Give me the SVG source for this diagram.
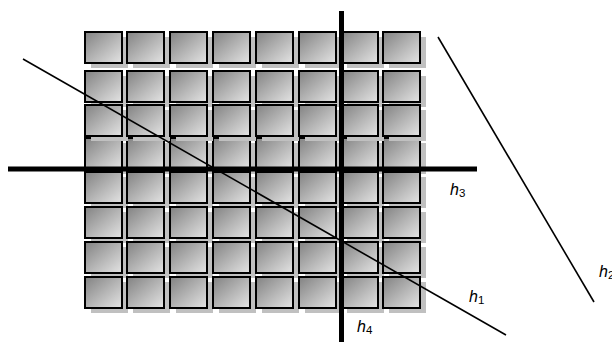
<svg xmlns="http://www.w3.org/2000/svg" xmlns:xlink="http://www.w3.org/1999/xlink" width="612" height="342" viewBox="0 0 612 342">
<style>
.lbl{font-family:"Liberation Sans",Arial,sans-serif;font-size:16px;fill:#000}
.sub{font-size:11.5px;font-style:normal}
.thick{stroke:#000;stroke-width:5;fill:none}
.thin{stroke:#000;stroke-width:1.6;fill:none}
</style>
<defs>
<linearGradient id="grad" x1="0" y1="0" x2="1" y2="1">
<stop offset="0" stop-color="#828282"/>
<stop offset="1" stop-color="#e4e4e4"/>
</linearGradient>
<g id="cell">
<rect x="6" y="5" width="37" height="31" fill="#c0c0c0"/>
<rect x="0" y="0" width="37" height="31" fill="url(#grad)" stroke="#000" stroke-width="2"/>
</g>
</defs>
<rect width="612" height="342" fill="#fff"/>
<g id="grid">
<g id="row1">
<use xlink:href="#cell" x="85" y="32"/><use xlink:href="#cell" x="127" y="32"/><use xlink:href="#cell" x="170" y="32"/><use xlink:href="#cell" x="213" y="32"/><use xlink:href="#cell" x="256" y="32"/><use xlink:href="#cell" x="299" y="32"/><use xlink:href="#cell" x="341" y="32"/><use xlink:href="#cell" x="383" y="32"/>
</g>
<g id="row2">
<use xlink:href="#cell" x="85" y="71"/><use xlink:href="#cell" x="127" y="71"/><use xlink:href="#cell" x="170" y="71"/><use xlink:href="#cell" x="213" y="71"/><use xlink:href="#cell" x="256" y="71"/><use xlink:href="#cell" x="299" y="71"/><use xlink:href="#cell" x="341" y="71"/><use xlink:href="#cell" x="383" y="71"/>
</g>
<g id="row4">
<use xlink:href="#cell" x="85" y="138"/><use xlink:href="#cell" x="127" y="138"/><use xlink:href="#cell" x="170" y="138"/><use xlink:href="#cell" x="213" y="138"/><use xlink:href="#cell" x="256" y="138"/><use xlink:href="#cell" x="299" y="138"/><use xlink:href="#cell" x="341" y="138"/><use xlink:href="#cell" x="383" y="138"/>
</g>
<g id="row3">
<use xlink:href="#cell" x="85" y="105"/><use xlink:href="#cell" x="127" y="105"/><use xlink:href="#cell" x="170" y="105"/><use xlink:href="#cell" x="213" y="105"/><use xlink:href="#cell" x="256" y="105"/><use xlink:href="#cell" x="299" y="105"/><use xlink:href="#cell" x="341" y="105"/><use xlink:href="#cell" x="383" y="105"/>
</g>
<g id="row5">
<use xlink:href="#cell" x="85" y="172"/><use xlink:href="#cell" x="127" y="172"/><use xlink:href="#cell" x="170" y="172"/><use xlink:href="#cell" x="213" y="172"/><use xlink:href="#cell" x="256" y="172"/><use xlink:href="#cell" x="299" y="172"/><use xlink:href="#cell" x="341" y="172"/><use xlink:href="#cell" x="383" y="172"/>
</g>
<g id="row6">
<use xlink:href="#cell" x="85" y="207"/><use xlink:href="#cell" x="127" y="207"/><use xlink:href="#cell" x="170" y="207"/><use xlink:href="#cell" x="213" y="207"/><use xlink:href="#cell" x="256" y="207"/><use xlink:href="#cell" x="299" y="207"/><use xlink:href="#cell" x="341" y="207"/><use xlink:href="#cell" x="383" y="207"/>
</g>
<g id="row7">
<use xlink:href="#cell" x="85" y="242"/><use xlink:href="#cell" x="127" y="242"/><use xlink:href="#cell" x="170" y="242"/><use xlink:href="#cell" x="213" y="242"/><use xlink:href="#cell" x="256" y="242"/><use xlink:href="#cell" x="299" y="242"/><use xlink:href="#cell" x="341" y="242"/><use xlink:href="#cell" x="383" y="242"/>
</g>
<g id="row8">
<use xlink:href="#cell" x="85" y="277"/><use xlink:href="#cell" x="127" y="277"/><use xlink:href="#cell" x="170" y="277"/><use xlink:href="#cell" x="213" y="277"/><use xlink:href="#cell" x="256" y="277"/><use xlink:href="#cell" x="299" y="277"/><use xlink:href="#cell" x="341" y="277"/><use xlink:href="#cell" x="383" y="277"/>
</g>
</g>
<g id="lines">
<line id="h3" class="thick" x1="8" y1="169" x2="477" y2="169"/>
<line id="h4" class="thick" x1="341.5" y1="11" x2="341.5" y2="342"/>
<line id="h1" class="thin" x1="23" y1="59" x2="506" y2="335"/>
<line id="h2" class="thin" x1="438" y1="37" x2="594" y2="302"/>
</g>
<g id="labels">
<text class="lbl" x="450" y="195"><tspan font-style="italic">h</tspan><tspan class="sub" dy="2">3</tspan></text>
<text class="lbl" x="469" y="302"><tspan font-style="italic">h</tspan><tspan class="sub" dy="2">1</tspan></text>
<text class="lbl" x="357" y="332"><tspan font-style="italic">h</tspan><tspan class="sub" dy="2">4</tspan></text>
<text class="lbl" x="599" y="277"><tspan font-style="italic">h</tspan><tspan class="sub" dy="2">2</tspan></text>
</g>
</svg>
